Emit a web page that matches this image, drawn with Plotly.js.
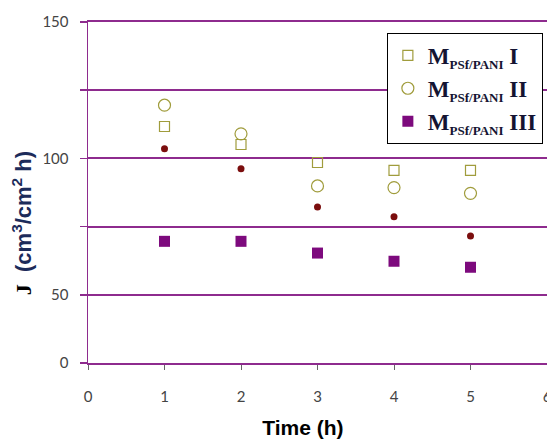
<!DOCTYPE html>
<html>
<head>
<meta charset="utf-8">
<script src="https://cdn.plot.ly/plotly-3.0.1.min.js"></script>
<style>html,body{margin:0;padding:0;background:#fff;}#chart{width:547px;height:439px;}</style>
</head>
<body>
<div id="chart"></div>
<script>
// Data
const timeH = [1, 2, 3, 4, 5];
const seriesI = [111.7, 105.1, 98.5, 95.6, 95.6];      // open squares
const seriesII = [119.5, 109.0, 89.9, 89.3, 87.2];     // open circles
const seriesDots = [103.5, 96.2, 82.2, 78.6, 71.6];    // small dark red dots (no legend)
const seriesIII = [69.6, 69.6, 65.3, 62.3, 60.1];      // filled purple squares
const xTickVals = [0, 1, 2, 3, 4, 5, 6];
const yTickVals = [25, 50, 75, 100, 125, 150];
const yTickText = ['0', '50', '', '100', '', '150'];
const legendNames = [
  '<b>M<sub><span style="font-size:13px">PSf/PANI</span></sub> I</b>',
  '<b>M<sub><span style="font-size:13px">PSf/PANI</span></sub> II</b>',
  '<b>M<sub><span style="font-size:13px">PSf/PANI</span></sub> III</b>'
];

const olive = '#a09c3c';
const grid = '#8e2b8e';

const traces = [
  {x: timeH, y: seriesI, mode: 'markers', type: 'scatter', name: legendNames[0],
   marker: {symbol: 'square-open', size: 10, color: olive, line: {width: 1.2, color: olive}}},
  {x: timeH, y: seriesII, mode: 'markers', type: 'scatter', name: legendNames[1],
   marker: {symbol: 'circle-open', size: 12, color: olive, line: {width: 1.2, color: olive}}},
  {x: timeH, y: seriesIII, mode: 'markers', type: 'scatter', name: legendNames[2],
   marker: {symbol: 'square', size: 11, color: '#7d0a7d'}},
  {x: timeH, y: seriesDots, mode: 'markers', type: 'scatter', showlegend: false,
   marker: {symbol: 'circle', size: 7, color: '#7b0e0e'}}
];

const layout = {
  width: 547, height: 439,
  margin: {l: 88, r: 0, t: 22, b: 76, autoexpand: false},
  paper_bgcolor: '#ffffff', plot_bgcolor: '#ffffff',
  showlegend: true,
  legend: {
    x: 0.991, y: 0.968, xanchor: 'right', yanchor: 'top',
    bgcolor: '#ffffff', bordercolor: '#000000', borderwidth: 1,
    font: {family: 'Liberation Serif', size: 23, color: '#141432'},
    itemwidth: 30
  },
  xaxis: {
    range: [0, 6], tickvals: xTickVals, showgrid: false, zeroline: false,
    showline: true, mirror: true, linecolor: grid, linewidth: 2,
    ticks: 'outside', ticklen: 5, tickcolor: '#666666', tickwidth: 1,
    tickfont: {family: 'Lato', size: 15, color: '#444444'},
    ticklabelstandoff: 14, ticklabeloverflow: 'allow',
    title: {text: '<b>Time (h)</b>&nbsp;&nbsp;&nbsp;&nbsp;&nbsp;', font: {family: 'Liberation Sans', size: 21, color: '#000000'}, standoff: 16},
    fixedrange: true
  },
  yaxis: {
    range: [25, 150], tickvals: yTickVals, ticktext: yTickText,
    showgrid: true, gridcolor: grid, gridwidth: 2, zeroline: false,
    showline: true, linecolor: grid, linewidth: 1.5,
    ticks: 'outside', ticklen: 7, tickcolor: grid, tickwidth: 1.5,
    tickfont: {family: 'Lato', size: 15, color: '#444444'},
    ticklabelstandoff: 8,
    title: {text: '<b><span style="font-family:Liberation Serif;color:#000">J</span>&nbsp;&nbsp;(cm<sup>3</sup>/cm<sup>2</sup> h)</b>&nbsp;&nbsp;&nbsp;&nbsp;&nbsp;&nbsp;&nbsp;&nbsp;&nbsp;&nbsp;',
            font: {family: 'Liberation Sans', size: 22, color: '#1c2b5a'}, standoff: 4},
    fixedrange: true
  }
};

Plotly.newPlot('chart', traces, layout, {displayModeBar: false, staticPlot: true});
</script>
</body>
</html>
